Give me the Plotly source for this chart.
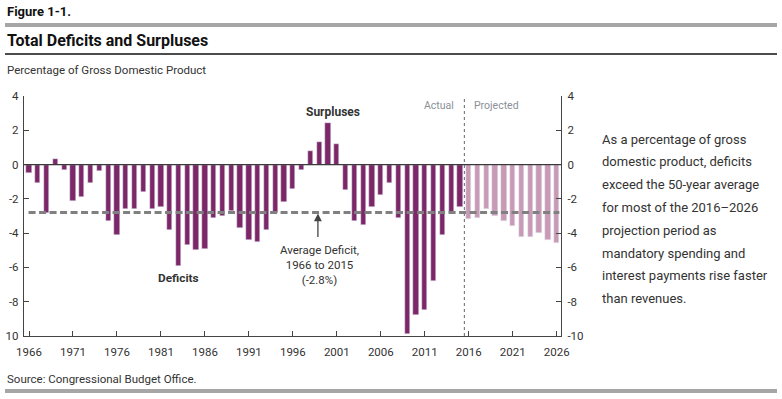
import plotly.graph_objects as go

years_actual = list(range(1966, 2016))
deficit_actual = [-0.5, -1.1, -2.8, 0.3, -0.3, -2.1, -1.9, -1.1, -0.4, -3.3,
                  -4.1, -2.6, -2.6, -1.6, -2.6, -2.5, -3.8, -5.9, -4.7, -5.0,
                  -4.9, -3.1, -3.0, -2.7, -3.7, -4.4, -4.5, -3.8, -2.8, -2.2,
                  -1.4, -0.3, 0.8, 1.3, 2.4, 1.2, -1.5, -3.3, -3.5, -2.5,
                  -1.8, -1.1, -3.1, -9.9, -8.8, -8.5, -6.8, -4.1, -2.8, -2.5]
years_proj = list(range(2016, 2027))
deficit_proj = [-3.2, -3.1, -2.6, -3.0, -3.3, -3.6, -4.2, -4.2, -4.0, -4.4, -4.6]
average_deficit = -2.8
x_tick_years = list(range(1966, 2027, 5))
left_tick_vals = [4, 2, 0, -2, -4, -6, -8, -10]
left_tick_text = ["4", "2", "0", "-2", "-4", "-6", "-8", "10"]
right_tick_text = ["4", "2", "0", "-2", "-4", "-6", "-8", "-10"]
side_note = ["As a percentage of gross", "domestic product, deficits",
             "exceed the 50-year average", "for most of the 2016\u20132026",
             "projection period as", "mandatory spending and",
             "interest payments rise faster", "than revenues."]

W, H = 782, 399
L, R, T, B = 24, 221, 96, 63
PW, PH = W - L - R, H - T - B

def px(x):
    return (x - L) / PW

def py(y):
    return (H - B - y) / PH

FONT = "Roboto, Arial, sans-serif"
DARK = "#7C2767"
LIGHT = "#C99AB6"
TXT = "#333333"

fig = go.Figure()
fig.add_trace(go.Bar(x=years_actual, y=deficit_actual, marker_color=DARK,
                     width=0.6, showlegend=False))
fig.add_trace(go.Bar(x=years_proj, y=deficit_proj, marker_color=LIGHT,
                     width=0.6, showlegend=False))
fig.add_trace(go.Scatter(x=[1966], y=[0], yaxis="y2", mode="markers",
                         marker_opacity=0, showlegend=False, hoverinfo="skip"))

shapes = []
shapes.append(dict(type="line", xref="x", yref="y", x0=1965.43, x1=2026.49, y0=0, y1=0,
                   line=dict(color="#3a3a3a", width=1.3), layer="above"))
shapes.append(dict(type="line", xref="x", yref="y", x0=1965.95, x1=2026.3,
                   y0=average_deficit, y1=average_deficit,
                   line=dict(color="#808080", width=3, dash="7px,3.5px"), layer="above"))
shapes.append(dict(type="line", xref="x", yref="y", x0=2015.5, x1=2015.5, y0=-10, y1=3.9,
                   line=dict(color="#666666", width=1, dash="3px,3px"), layer="below"))
shapes.append(dict(type="line", xref="paper", yref="paper", x0=px(5), x1=px(777),
                   y0=py(25), y1=py(25), line=dict(color="#A6A6A6", width=4)))
shapes.append(dict(type="line", xref="paper", yref="paper", x0=px(5), x1=px(777),
                   y0=py(54), y1=py(54), line=dict(color="#111111", width=1.5)))
shapes.append(dict(type="line", xref="paper", yref="paper", x0=px(5), x1=px(777),
                   y0=py(391), y1=py(391), line=dict(color="#A6A6A6", width=4)))

ann = []
def text(x, y, s, size=12, bold=False, xanchor="left", color=TXT):
    ann.append(dict(x=x, y=y, xref="paper", yref="paper", text=f"<b>{s}</b>" if bold else s,
                    showarrow=False, xanchor=xanchor, yanchor="middle",
                    font=dict(family=FONT, size=size, color=color)))

text(px(5), py(12), "Figure 1-1.", 13, True, color="#111")
text(px(5), py(41), "Total Deficits and Surpluses", 16, True, color="#111")
text(px(5), py(70), "Percentage of Gross Domestic Product", 11.5)
text(px(5), py(379), "Source: Congressional Budget Office.", 11.5)
for i, line in enumerate(side_note):
    text(px(600), py(139 + i * 22.8), line, 13)

text(px(333), py(112), "Surpluses", 12, True, xanchor="center")
text(px(179), py(278), "Deficits", 11.8, True, xanchor="center")
text(px(456), py(105), "Actual", 10.5, xanchor="right", color="#8a8f98")
text(px(472), py(105), "Projected", 10.5, color="#8a8f98")
ann.append(dict(x=px(319), y=py(265), xref="paper", yref="paper",
                text="Average Deficit,<br>1966 to 2015<br>(-2.8%)", showarrow=False,
                xanchor="center", yanchor="middle", align="center",
                font=dict(family=FONT, size=11.5, color=TXT)))
ann.append(dict(x=1998.85, y=average_deficit - 0.05, xref="x", yref="y", ax=0, ay=25,
                showarrow=True, arrowhead=2, arrowsize=1.2, arrowwidth=1.3,
                arrowcolor="#444444", text=""))

axis_common = dict(ticks="inside", ticklen=5, tickcolor="#444", showline=True,
                   linecolor="#444", linewidth=1.3, showgrid=False, zeroline=False,
                   automargin=False, tickfont=dict(family=FONT, size=11.5, color=TXT))

fig.update_layout(
    width=W, height=H, margin=dict(l=L, r=R, t=T, b=B),
    paper_bgcolor="white", plot_bgcolor="white",
    bargap=0, shapes=shapes, annotations=ann,
    font=dict(family=FONT, size=12, color=TXT),
    xaxis=dict(range=[1965.43, 2026.49], tickvals=x_tick_years, ticklabelstandoff=5,
               **axis_common),
    yaxis=dict(range=[-10, 4], tickvals=left_tick_vals, ticktext=left_tick_text,
               ticklabelstandoff=2, **axis_common),
    yaxis2=dict(range=[-10, 4], overlaying="y", side="right", tickvals=left_tick_vals,
                ticktext=right_tick_text, ticklabelstandoff=3, **axis_common),
)

fig.write_html("out.html", config={"displayModeBar": False},
               post_script="document.body.style.margin='0px';document.body.style.overflow='hidden';")
